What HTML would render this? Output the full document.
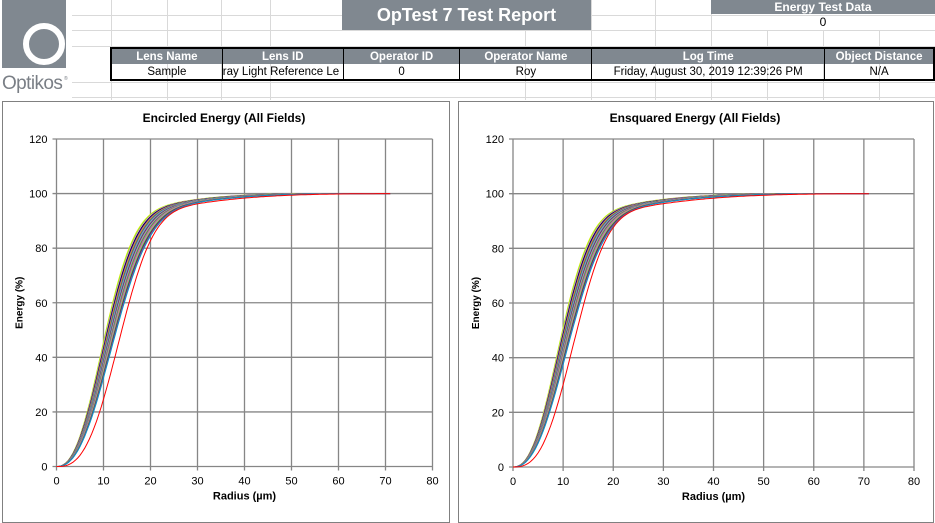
<!DOCTYPE html>
<html><head><meta charset="utf-8"><style>
body{margin:0;width:935px;height:510px;overflow:hidden;background:#fff;font-family:"Liberation Sans",sans-serif;position:relative}
.a{position:absolute}
.g{position:absolute;background:#d9d9d9}
table{position:absolute;left:110px;top:47px;border-collapse:collapse;border:2px solid #000;font-size:11.5px}
td{height:15px;padding:0;text-align:center;white-space:nowrap;overflow:hidden;border-left:1px solid #000}
tr.h td{background:#808890;color:#fff;font-weight:bold}
.panel{position:absolute;border:1px solid #808080;background:#fff}
</style></head><body>
<div class="g" style="left:72px;top:15px;width:863px;height:1px"></div>
<div class="g" style="left:72px;top:30px;width:863px;height:1px"></div>
<div class="g" style="left:72px;top:46px;width:863px;height:1px"></div>
<div class="g" style="left:72px;top:82px;width:863px;height:1px"></div>
<div class="g" style="left:72px;top:97px;width:863px;height:1px"></div>
<div class="g" style="left:111px;top:0;width:1px;height:100px"></div>
<div class="g" style="left:167px;top:0;width:1px;height:100px"></div>
<div class="g" style="left:221px;top:0;width:1px;height:100px"></div>
<div class="g" style="left:270px;top:0;width:1px;height:100px"></div>
<div class="g" style="left:525px;top:30px;width:1px;height:70px"></div>
<div class="g" style="left:591px;top:0;width:1px;height:100px"></div>
<div class="g" style="left:655px;top:0;width:1px;height:100px"></div>
<div class="g" style="left:711px;top:0;width:1px;height:100px"></div>
<div class="g" style="left:767px;top:30px;width:1px;height:70px"></div>
<div class="g" style="left:823px;top:30px;width:1px;height:70px"></div>
<div class="g" style="left:879px;top:30px;width:1px;height:70px"></div>
<svg class="a" style="left:0;top:0" width="72" height="95">
<rect x="2" y="0" width="64" height="68" fill="#808890"/>
<circle cx="44" cy="44" r="18" fill="none" stroke="#fff" stroke-width="6"/>
<text x="2" y="89" font-size="19" letter-spacing="-0.6" fill="#7a7f86" font-family="Liberation Sans">Optikos</text>
<text x="64" y="80" font-size="5" fill="#7a7f86">®</text>
</svg>
<div class="a" style="left:342px;top:0;width:249px;height:30px;background:#808890;color:#fff;font-weight:bold;font-size:18px;line-height:30px;text-align:center">OpTest 7 Test Report</div>
<div class="a" style="left:711px;top:0;width:224px;height:14px;background:#808890;color:#fff;font-weight:bold;font-size:12px;line-height:14px;text-align:center">Energy Test Data</div>
<div class="a" style="left:711px;top:15px;width:224px;font-size:12px;line-height:15px;text-align:center">0</div>
<table>
<tr class="h"><td style="width:110px;border-left:0">Lens Name</td><td style="width:120px">Lens ID</td><td style="width:116px">Operator ID</td><td style="width:131px">Operator Name</td><td style="width:232px">Log Time</td><td style="width:108px">Object Distance</td></tr>
<tr><td style="border-left:0">Sample</td><td style="text-align:left">ray Light Reference Le</td><td>0</td><td>Roy</td><td>Friday, August 30, 2019 12:39:26 PM</td><td>N/A</td></tr>
</table>
<div class="panel" style="left:2px;top:101px;width:446px;height:420px"></div>
<div class="panel" style="left:458px;top:101px;width:474px;height:420px"></div>
<svg id="s" class="a" style="left:0;top:0" width="935" height="510" font-family="Liberation Sans"></svg>
<script>
var s=document.getElementById('s'),h='';
var cols=['#e6e600','#66ff33','#ff66ff','#000','#3333cc','#ff9933','#996633','#009999','#cc66cc','#33cc99','#990033','#6699ff','#cc9966','#339933','#9966cc','#ff6666','#66cccc','#999900','#003399','#cc3366','#0099cc'];
function chart(x0,x80,y0,y120,title,tx,sq){
 var sx=(x80-x0)/80,sy=(y0-y120)/120;
 for(var i=0;i<=8;i++){var x=x0+i*10*sx;h+='<line x1="'+x+'" y1="'+y120+'" x2="'+x+'" y2="'+(y0+4)+'" stroke="#868686" stroke-width="1.3"/>';h+='<text x="'+x+'" y="'+(y0+18)+'" font-size="11" text-anchor="middle">'+i*10+'</text>';}
 for(var j=0;j<=6;j++){var y=y0-j*20*sy;h+='<line x1="'+(x0-4)+'" y1="'+y+'" x2="'+x80+'" y2="'+y+'" stroke="#868686" stroke-width="1.3"/>';h+='<text x="'+(x0-9)+'" y="'+(y+4)+'" font-size="11" text-anchor="end">'+j*20+'</text>';}
 h+='<text x="'+tx+'" y="122" font-size="12" font-weight="bold" text-anchor="middle">'+title+'</text>';
 h+='<text x="'+(x0+x80)/2+'" y="'+(y0+33)+'" font-size="11" font-weight="bold" text-anchor="middle">Radius (µm)</text>';
 var cy=(y0+y120)/2;h+='<text x="'+(x0-34)+'" y="'+cy+'" font-size="10" font-weight="bold" text-anchor="middle" transform="rotate(-90 '+(x0-34)+' '+cy+')">Energy (%)</text>';
 var n=cols.length;
 for(var k=0;k<=n;k++){
  var a,c,b,p;
  if(k==n){a=sq?14:15.3;b=30;p=2.8;c='#ff0000';}else{a=(sq?11:11.8)+k*(sq?2.3:2.6)/n;b=24+k*4/n;p=2.4;c=cols[k];}
  function f(r){return 0.9*(1-Math.exp(-Math.pow(r/a,p)))+0.1*(1-Math.exp(-Math.pow(r/b,2)));}
  var fe=f(71),d='';
  for(var r=0;r<=71;r+=0.5){d+=(r?'L':'M')+(x0+r*sx).toFixed(1)+','+(y0-100*f(r)/fe*sy).toFixed(1);}
  h+='<path d="'+d+'" fill="none" stroke="'+c+'" stroke-width="1"/>';
 }
}
chart(56.5,432.5,466.5,139,'Encircled Energy (All Fields)',224,false);
chart(513,914,467,139,'Ensquared Energy (All Fields)',695,true);
s.innerHTML=h;
</script>
</body></html>
